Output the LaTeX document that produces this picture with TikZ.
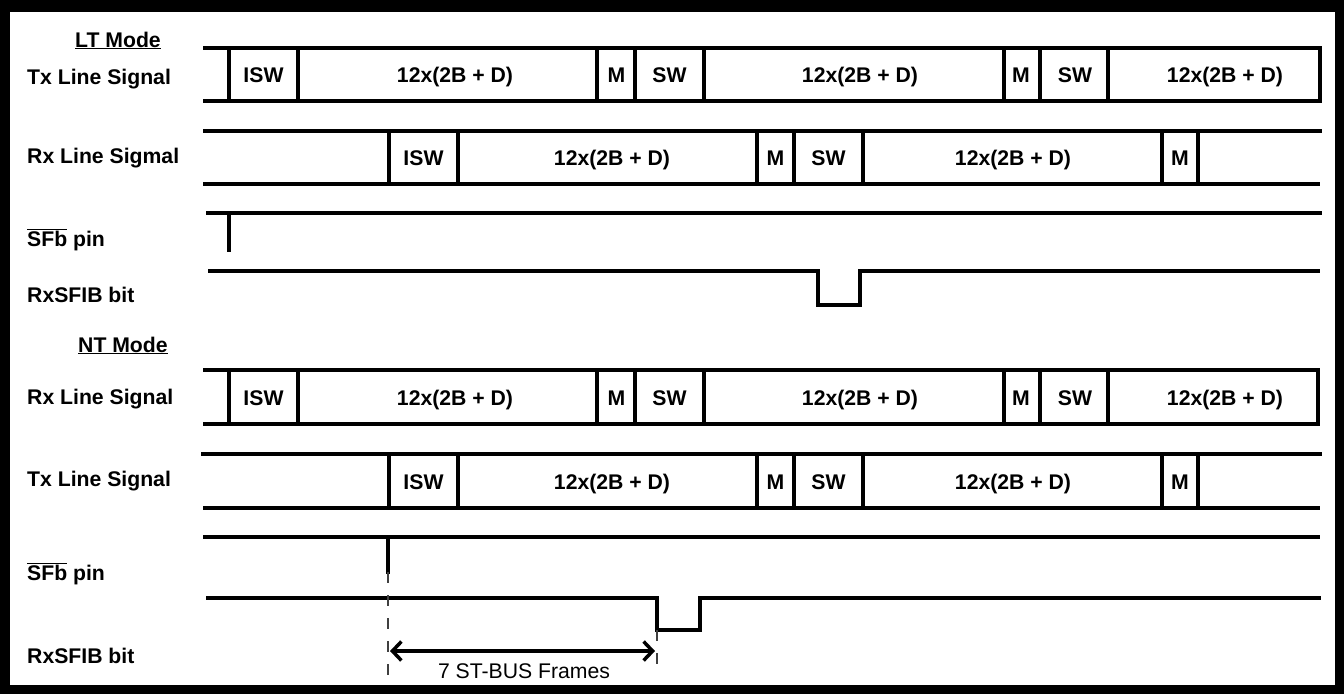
\documentclass[tikz,border=0pt]{standalone}
\usepackage{fontspec}
\setmainfont{Liberation Sans}
\usetikzlibrary{arrows.meta}
\begin{document}
\begin{tikzpicture}[x=1pt,y=-1pt,
  sig/.style={line width=3.8pt, line cap=rect},
  pulse/.style={line width=3.2pt, line join=miter},
  guide/.style={line width=1.3pt, black!75, dash pattern=on 11pt off 12pt},
  lbl/.style={anchor=base west, inner sep=0pt, font=\bfseries\fontsize{21.2}{25}\selectfont},
  cell/.style={anchor=base, inner sep=0pt, font=\bfseries\fontsize{21.2}{25}\selectfont},
  note/.style={anchor=base, inner sep=0pt, font=\fontsize{21.2}{25}\selectfont}]
\useasboundingbox (0,0) rectangle (1344,694);
\fill[black] (0,0) rectangle (1344,694);
\fill[white] (10,12) rectangle (1335,685);

% ---------- LT Mode ----------
\node[lbl] (ltmode) at (75,47) {\underline{LT Mode}};
\node[lbl] (lttx) at (27,84.5) {Tx Line Signal};
\node[lbl] (ltrx) at (27,163.5) {Rx Line Sigmal};
\node[lbl] (ltsfb) at (27,246) {$\overline{\mbox{SFb}}$ pin};
\node[lbl] (ltsfib) at (27,302) {RxSFIB bit};

% Tx row (LT)
\draw[sig] (205,48) -- (1320,48) -- (1320,101) -- (205,101);
\foreach \x in {229,298,597,635,704,1004,1040,1108} \draw[sig] (\x,48) -- (\x,101);
\node[cell] (a1) at (263.5,82.5) {ISW};
\node[cell] (a2) at (455,82.5) {12x(2B + D)};
\node[cell] (a3) at (616.5,82.5) {M};
\node[cell] (a4) at (669.5,82.5) {SW};
\node[cell] (a5) at (860,82.5) {12x(2B + D)};
\node[cell] (a6) at (1021,82.5) {M};
\node[cell] (a7) at (1075,82.5) {SW};
\node[cell] (a8) at (1225,82.5) {12x(2B + D)};

% Rx row (LT)
\draw[sig] (205,131) -- (1320,131);
\draw[sig] (205,184) -- (1318,184);
\foreach \x in {389,458,757,794,863,1162,1198} \draw[sig] (\x,131) -- (\x,184);
\node[cell] (b1) at (423.5,165) {ISW};
\node[cell] (b2) at (612,165) {12x(2B + D)};
\node[cell] (b3) at (775.5,165) {M};
\node[cell] (b4) at (828.5,165) {SW};
\node[cell] (b5) at (1013,165) {12x(2B + D)};
\node[cell] (b6) at (1180,165) {M};

% SFb pin (LT)
\draw[sig] (208,213) -- (1320,213);
\draw[sig] (229,213) -- (229,250);

% RxSFIB bit (LT)
\draw[pulse] (208,271) -- (818,271) -- (818,305) -- (860,305) -- (860,271) -- (1320,271);

% ---------- NT Mode ----------
\node[lbl] (ntmode) at (78,352) {\underline{NT Mode}};
\node[lbl] (ntrx) at (27,404) {Rx Line Signal};
\node[lbl] (nttx) at (27,486) {Tx Line Signal};
\node[lbl] (ntsfb) at (27,580) {$\overline{\mbox{SFb}}$ pin};
\node[lbl] (ntsfib) at (27,663) {RxSFIB bit};

% Rx row (NT)
\draw[sig] (205,370) -- (1318,370) -- (1318,424) -- (205,424);
\foreach \x in {229,298,597,635,704,1004,1040,1108} \draw[sig] (\x,370) -- (\x,424);
\node[cell] (c1) at (263.5,405) {ISW};
\node[cell] (c2) at (455,405) {12x(2B + D)};
\node[cell] (c3) at (616.5,405) {M};
\node[cell] (c4) at (669.5,405) {SW};
\node[cell] (c5) at (860,405) {12x(2B + D)};
\node[cell] (c6) at (1021,405) {M};
\node[cell] (c7) at (1075,405) {SW};
\node[cell] (c8) at (1225,405) {12x(2B + D)};

% Tx row (NT)
\draw[sig] (203,454) -- (1320,454);
\draw[sig] (205,508) -- (1318,508);
\foreach \x in {389,458,757,794,863,1162,1198} \draw[sig] (\x,454) -- (\x,508);
\node[cell] (d1) at (423.5,489) {ISW};
\node[cell] (d2) at (612,489) {12x(2B + D)};
\node[cell] (d3) at (775.5,489) {M};
\node[cell] (d4) at (828.5,489) {SW};
\node[cell] (d5) at (1013,489) {12x(2B + D)};
\node[cell] (d6) at (1180,489) {M};

% SFb pin (NT)
\draw[sig] (205,537) -- (1318,537);
\coordinate (sfbtop) at (388,537);
\coordinate (sfbend) at (388,572);
\draw[sig] (sfbtop) -- (sfbend);

% RxSFIB bit (NT)
\coordinate (diptl) at (657,598);
\coordinate (dipbl) at (657,630);
\draw[pulse] (206,598) -- (diptl) -- (dipbl) -- (700,630) -- (700,598) -- (1321,598);

% guides and measurement
\coordinate (gA) at (388,675);
\coordinate (gB) at (657,675);
\draw[guide] (sfbend) -- (gA);
\draw[guide] (dipbl) -- (gB);
\coordinate (arL) at (390,651);
\coordinate (arR) at (655,651);
\draw[line width=3.5pt, {Straight Barb[length=9pt,width=19pt]}-{Straight Barb[length=9pt,width=19pt]}] (arL) -- (arR);
\node[note] (frames) at (524,678) {7 ST-BUS Frames};
\end{tikzpicture}
\end{document}
